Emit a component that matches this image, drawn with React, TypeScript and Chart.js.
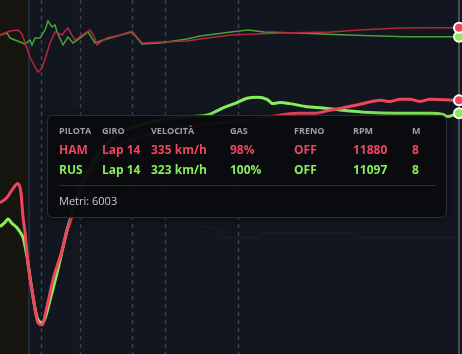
import { useEffect, useRef } from "react";
import { Chart, registerables } from "chart.js";

Chart.register(...registerables);

// ---- distance window (metres) ----
const DIST_MIN = 5544;
const DIST_MAX = 6006;
const HOVER_DIST = 6003;
const SECTOR_EDGE = 5573;
const CORNER_MARKERS = [5585, 5624, 5676, 5709, 5782];

// ---- RPM traces ----
const HAM_RPM_DIST = [0, 5, 10, 18, 22, 25, 30, 35, 38, 42, 46, 50, 55, 58, 62, 65, 68, 72, 75, 82, 90, 94, 97, 102, 107, 120, 132, 137, 142, 160, 187, 200, 231, 281, 331, 360, 398, 430, 459, 462];
const HAM_RPM = [11250, 11430, 11600, 11690, 11340, 10560, 9340, 8470, 8040, 8380, 9430, 10560, 11520, 11430, 11250, 11600, 11860, 11250, 10820, 11250, 11690, 11170, 10390, 10730, 10990, 11250, 11600, 11080, 10560, 10650, 10730, 10900, 11250, 11430, 11520, 11690, 11860, 11880, 11880, 11880];

const RUS_RPM_DIST = [0, 7, 10, 20, 25, 30, 32, 35, 40, 45, 48, 52, 55, 57, 63, 68, 73, 80, 88, 95, 103, 132, 142, 160, 187, 200, 231, 248, 264, 298, 348, 404, 459, 462];
const RUS_RPM = [11250, 11430, 10990, 10650, 10470, 10820, 10390, 10990, 10990, 11690, 12470, 11950, 12130, 11520, 10390, 11080, 10560, 10990, 11520, 10560, 10820, 11520, 10470, 10560, 10900, 11170, 11520, 11690, 11520, 11430, 11250, 11100, 11097, 11090];

// ---- speed traces (km/h) ----
const HAM_SPEED_DIST = [0, 7, 12, 18, 21, 23, 25, 28, 33, 38, 42, 47, 53, 62, 67, 70, 80, 95, 110, 130, 160, 200, 240, 270, 298, 313, 331, 358, 381, 390, 400, 410, 420, 430, 459, 462];
const HAM_SPEED = [240, 245, 252, 258, 249, 227, 213, 184, 153, 129, 127, 144, 169, 196, 215, 222, 252, 275, 289, 298, 306, 312, 316, 320, 323, 323, 326, 331, 335, 334, 336, 336, 334, 336, 335, 335];

const RUS_SPEED_DIST = [0, 5, 8, 12, 17, 20, 23, 27, 32, 37, 42, 45, 50, 57, 63, 68, 80, 95, 110, 130, 160, 190, 205, 212, 223, 237, 247, 258, 267, 273, 280, 290, 307, 323, 340, 364, 398, 430, 443, 448, 455, 459, 462];
const RUS_SPEED = [218, 222, 225, 221, 217, 213, 208, 190, 159, 134, 129, 133, 150, 175, 199, 218, 252, 280, 298, 309, 317, 320, 321, 323, 328, 333, 337, 338, 336, 332, 333, 332, 329, 328, 326, 324, 323, 323, 322, 320, 322, 323, 323];

// ---- faint background trace ----
const GHOST_DIST = [175, 215, 222, 259, 263, 351, 355, 462];
const GHOST_VAL = [222, 217, 208, 208, 212, 212, 208, 208];

// ---- tooltip content ----
const TIP_HEADERS = ["PILOTA", "GIRO", "VELOCITÀ", "GAS", "FRENO", "RPM", "M"];
const TIP_HAM = ["HAM", "Lap 14", "335 km/h", "98%", "OFF", "11880", "8"];
const TIP_RUS = ["RUS", "Lap 14", "323 km/h", "100%", "OFF", "11097", "8"];
const TIP_FOOTER = "Metri: 6003";

const COL_LEFT = [11, 54, 103, 182, 246, 305, 364];

const RED = "#ef4561";
const GREEN = "#86ee5a";
const RED_DARK = "#b4283f";
const GREEN_DARK = "#4c9f36";

function toPoints(dist: number[], vals: number[]) {
  return dist.map((d, i) => ({ x: DIST_MIN + d, y: vals[i] }));
}

const bgPlugin = {
  id: "bgPlugin",
  beforeDraw(chart: any) {
    const { ctx, scales, width, height } = chart;
    const xs = scales.x;
    ctx.save();
    ctx.fillStyle = "#11161f";
    ctx.fillRect(0, 0, width, height);
    const edge = xs.getPixelForValue(SECTOR_EDGE);
    ctx.fillStyle = "#17150f";
    ctx.fillRect(0, 0, edge, height);
    ctx.strokeStyle = "#26324a";
    ctx.lineWidth = 1.5;
    ctx.beginPath();
    ctx.moveTo(edge, 0);
    ctx.lineTo(edge, height);
    ctx.stroke();
    ctx.strokeStyle = "#3a404c";
    ctx.lineWidth = 1.5;
    ctx.setLineDash([4, 4]);
    CORNER_MARKERS.forEach((m) => {
      const px = Math.round(xs.getPixelForValue(m)) + 0.5;
      ctx.beginPath();
      ctx.moveTo(px, 0);
      ctx.lineTo(px, height);
      ctx.stroke();
    });
    ctx.setLineDash([]);
    const hx = xs.getPixelForValue(HOVER_DIST);
    ctx.strokeStyle = "#5a5f68";
    ctx.lineWidth = 1.5;
    ctx.beginPath();
    ctx.moveTo(hx, 0);
    ctx.lineTo(hx, height);
    ctx.stroke();
    ctx.restore();
  },
};

function ChartCanvas() {
  const ref = useRef<HTMLCanvasElement | null>(null);
  useEffect(() => {
    if (!ref.current) return;
    const hoverRadius = (ctx: any) => (ctx.raw && ctx.raw.x === HOVER_DIST ? 5 : 0);
    const chart = new Chart(ref.current, {
      type: "line",
      data: {
        datasets: [
          {
            label: "ghost",
            data: toPoints(GHOST_DIST, GHOST_VAL),
            yAxisID: "ySpeed",
            borderColor: "rgba(255,255,255,0.03)",
            borderWidth: 1.5,
            pointRadius: 0,
            tension: 0,
          },
          {
            label: "HAM RPM",
            data: toPoints(HAM_RPM_DIST, HAM_RPM),
            yAxisID: "yRpm",
            borderColor: RED_DARK,
            backgroundColor: RED,
            borderWidth: 1.5,
            pointRadius: hoverRadius,
            pointBorderColor: "#ffffff",
            pointBorderWidth: 2,
            tension: 0,
          },
          {
            label: "RUS RPM",
            data: toPoints(RUS_RPM_DIST, RUS_RPM),
            yAxisID: "yRpm",
            borderColor: GREEN_DARK,
            backgroundColor: GREEN,
            borderWidth: 1.5,
            pointRadius: hoverRadius,
            pointBorderColor: "#ffffff",
            pointBorderWidth: 2,
            tension: 0,
          },
          {
            label: "HAM",
            data: toPoints(HAM_SPEED_DIST, HAM_SPEED),
            yAxisID: "ySpeed",
            borderColor: RED,
            backgroundColor: RED,
            borderWidth: 3,
            pointRadius: hoverRadius,
            pointBorderColor: "#ffffff",
            pointBorderWidth: 2,
            cubicInterpolationMode: "monotone",
          },
          {
            label: "RUS",
            data: toPoints(RUS_SPEED_DIST, RUS_SPEED),
            yAxisID: "ySpeed",
            borderColor: GREEN,
            backgroundColor: GREEN,
            borderWidth: 3,
            pointRadius: hoverRadius,
            pointBorderColor: "#ffffff",
            pointBorderWidth: 2,
            cubicInterpolationMode: "monotone",
          },
        ],
      },
      options: {
        responsive: false,
        animation: false,
        layout: { padding: 0 },
        plugins: { legend: { display: false }, tooltip: { enabled: false } },
        events: [],
        scales: {
          x: { type: "linear", min: DIST_MIN, max: DIST_MAX, display: false },
          ySpeed: { type: "linear", min: 100, max: 428, display: false },
          yRpm: { type: "linear", min: -16500, max: 14300, display: false },
        },
      },
      plugins: [bgPlugin],
    });
    return () => chart.destroy();
  }, []);
  return <canvas ref={ref} width={462} height={354} style={{ display: "block" }} />;
}

function Row({ cells, color, top, size, weight }: { cells: string[]; color: string; top: number; size: number; weight: number }) {
  return (
    <>
      {cells.map((c, i) => (
        <span
          key={i}
          style={{
            position: "absolute",
            left: COL_LEFT[i],
            top,
            fontSize: size,
            lineHeight: 1,
            fontWeight: weight,
            color,
            whiteSpace: "nowrap",
          }}
        >
          {c}
        </span>
      ))}
    </>
  );
}

export default function App() {
  return (
    <div style={{ position: "fixed", left: 0, top: 0, width: 462, height: 354, overflow: "hidden", fontFamily: "'Open Sans', sans-serif" }}>
      <ChartCanvas />
      <div
        style={{
          position: "absolute",
          left: 47,
          top: 115,
          width: 400,
          height: 103,
          boxSizing: "border-box",
          background: "rgba(10,11,14,0.96)",
          border: "1px solid #2c2f36",
          borderRadius: 6,
          boxShadow: "0 2px 8px rgba(0,0,0,0.4)",
        }}
      >
        <Row cells={TIP_HEADERS} color="#9c9fa7" top={9.5} size={9} weight={700} />
        <Row cells={TIP_HAM} color={RED} top={28} size={12} weight={700} />
        <Row cells={TIP_RUS} color={GREEN} top={48} size={12} weight={700} />
        <div style={{ position: "absolute", left: 11, width: 377, top: 69, height: 1, background: "#2a2d33" }} />
        <span style={{ position: "absolute", left: 11, top: 79, fontSize: 11, lineHeight: 1, color: "#c9cbd0" }}>{TIP_FOOTER}</span>
      </div>
    </div>
  );
}
